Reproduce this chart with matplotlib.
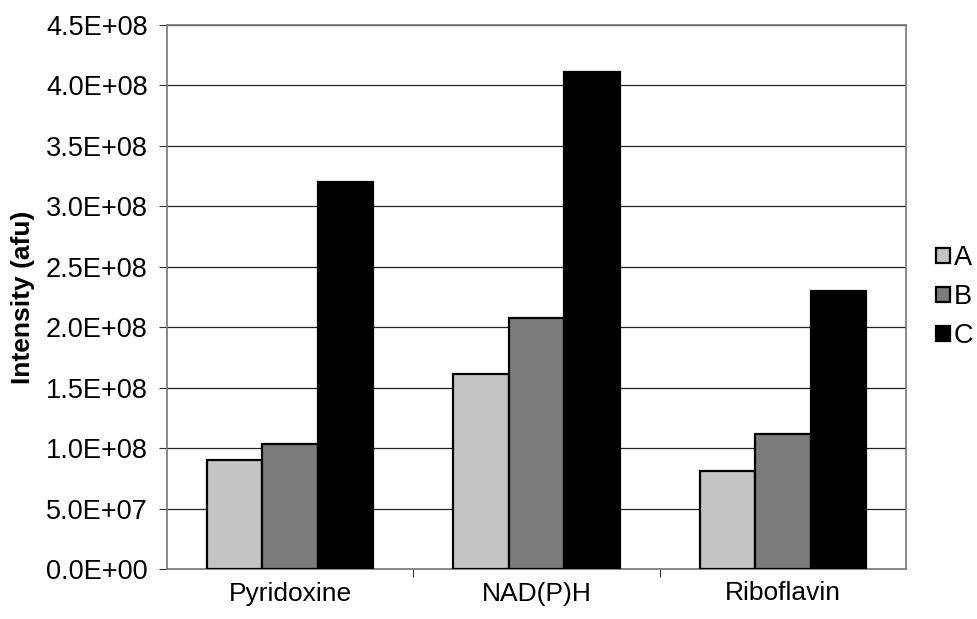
import matplotlib.pyplot as plt
import numpy as np
from matplotlib.ticker import FuncFormatter

plt.rcParams['font.family'] = ['Liberation Sans', 'DejaVu Sans']

categories = ['Pyridoxine', 'NAD(P)H', 'Riboflavin']
series_names = ['A', 'B', 'C']
values_a = [0.90e8, 1.61e8, 0.81e8]
values_b = [1.03e8, 2.08e8, 1.12e8]
values_c = [3.20e8, 4.11e8, 2.30e8]
colors = ['#c4c4c4', '#7c7c7c', '#000000']

fig = plt.figure(figsize=(9.78, 6.19), dpi=100)
ax = fig.add_axes([167 / 978, 1 - 569 / 619, 739 / 978, 544 / 619])

x = np.arange(len(categories))
bw = 0.225
for i, (vals, name) in enumerate(zip([values_a, values_b, values_c], series_names)):
    ax.bar(x + (i - 1) * bw, vals, bw, color=colors[i], edgecolor='black',
           linewidth=1.6, label=name, zorder=3)

ax.set_xlim(-0.5, 2.5)
ax.set_ylim(0, 4.5e8)
ax.set_yticks(np.arange(0, 4.51e8, 0.5e8))
ax.yaxis.set_major_formatter(FuncFormatter(lambda v, p: '%.1E' % v))
ax.set_xticks(x)
ax.set_xticklabels(categories)
ax.set_xticks([0.5, 1.5], minor=True)
ax.tick_params(axis='x', which='major', length=0, pad=9, labelsize=19)
ax.tick_params(axis='x', which='minor', length=6, width=0.8, color='#333333')
ax.tick_params(axis='y', length=6, width=0.8, color='#333333', labelsize=19.5, pad=8)
ax.grid(axis='y', color='#222222', linewidth=0.9, zorder=0)

for s in ax.spines.values():
    s.set_color('#777777')
    s.set_linewidth(1.2)

ax.set_ylabel('Intensity (afu)', fontsize=19, fontweight='bold', labelpad=8)

leg = ax.legend(loc='center left', bbox_to_anchor=(1.026, 0.5), frameon=False,
                fontsize=19.5, handlelength=0.5, handleheight=0.5,
                handletextpad=0.15, labelspacing=0.48, borderaxespad=0)

fig.savefig('out.png', dpi=100)
